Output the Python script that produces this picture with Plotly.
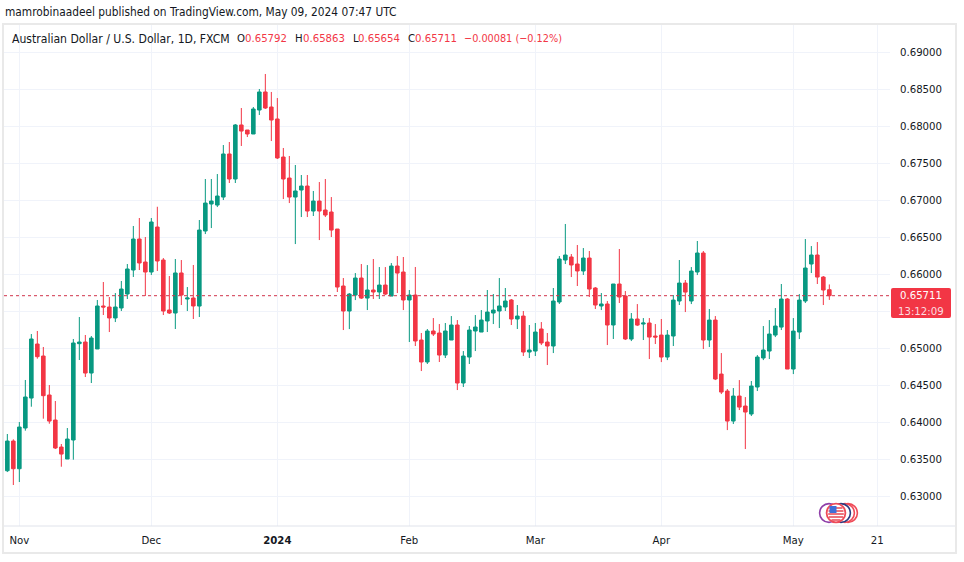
import plotly.graph_objects as go

bar_index = list(range(138))
opens = [
 .63346,.63747,.63373,.63923,.64328,.65058,.64896,.64369,.64031,.63666,
 .63504,.63761,.65063,.65085,.64666,.64991,.65572,.65558,.65410,.65545,
 .65734,.66058,.66477,.66166,.66031,.66639,.66193,.65518,.65477,.66018,
 .65666,.65680,.65571,.66585,.66950,.66936,.67044,.67626,.67288,.68018,
 .67950,.67896,.68220,.68464,.68261,.68099,.67585,.67301,.67044,.67139,
 .67193,.66855,.66990,.66869,.66842,.66612,.65842,.65504,.65720,.65950,
 .65679,.65788,.65761,.65855,.65706,.66112,.66031,.65653,.65720,.65112,
 .64815,.65234,.65207,.64909,.65112,.65315,.64531,.64882,.65234,.65220,
 .65369,.65477,.65504,.65558,.65653,.65396,.65436,.64950,.64963,.65261,
 .65085,.65031,.65626,.66193,.66234,.66139,.66045,.66220,.65815,.65572,
 .65599,.65315,.65869,.65707,.65125,.65396,.65328,.65342,.65166,.65179,
 .64882,.65166,.65639,.65882,.65639,.66031,.66288,.65112,.65382,.64652,
 .64423,.64017,.64355,.64220,.64112,.64477,.64869,.64963,.65179,.65287,
 .65666,.64720,.65220,.65639,.66139,.66261,.65963,.65792]
highs = [
 .63842,.63770,.64004,.64572,.65193,.65234,.65018,.64504,.64288,.63707,
 .63923,.65126,.65423,.65180,.65166,.65653,.65896,.65693,.65747,.65910,
 .66139,.66653,.66761,.66504,.66761,.66913,.66220,.65977,.66207,.66193,
 .65828,.66126,.66734,.67288,.67288,.67355,.67747,.67788,.68031,.68247,
 .67950,.68261,.68504,.68707,.68464,.68382,.67707,.67599,.67477,.67342,
 .67342,.67126,.67247,.67288,.67044,.66612,.65950,.65747,.66017,.66139,
 .66125,.66207,.66098,.66098,.66152,.66247,.66234,.65788,.66099,.65207,
 .65261,.65409,.65328,.65342,.65436,.65382,.64963,.65301,.65450,.65517,
 .65788,.65734,.65950,.65815,.65666,.65585,.65504,.65315,.65342,.65355,
 .65207,.65815,.66247,.66680,.66274,.66396,.66355,.66315,.65828,.65747,
 .65639,.65869,.66342,.65774,.65477,.65598,.65409,.65409,.65328,.65396,
 .65247,.65720,.66193,.65923,.66098,.66450,.66315,.65531,.65436,.64936,
 .64450,.64463,.64571,.64341,.64558,.64909,.65301,.65382,.65544,.65869,
 .65679,.65409,.65733,.66477,.66382,.66436,.65977,.65863]
lows = [
 .63328,.63153,.63193,.63887,.64211,.64860,.64049,.63981,.63639,.63400,
 .63504,.63495,.64842,.64612,.64531,.64991,.65450,.65220,.65355,.65504,
 .65666,.65964,.66058,.65707,.65991,.66045,.65450,.65464,.65261,.65585,
 .65504,.65396,.65423,.66544,.66625,.66909,.67004,.67234,.67234,.67734,
 .67855,.67896,.68153,.68234,.67801,.67558,.67017,.66963,.66409,.66774,
 .66774,.66788,.66463,.66774,.66504,.65761,.65247,.65260,.65652,.65666,
 .65517,.65666,.65666,.65720,.65706,.65747,.65517,.65085,.65031,.64693,
 .64788,.65166,.64815,.64869,.65112,.64436,.64477,.64788,.64963,.65220,
 .65220,.65328,.65274,.65504,.65315,.65261,.64896,.64869,.64896,.65044,
 .64774,.64936,.65599,.66139,.65963,.65842,.65991,.65693,.65531,.65517,
 .65044,.65126,.65612,.65112,.65098,.65301,.65112,.64855,.65058,.64814,
 .64841,.65031,.65585,.65490,.65598,.65990,.64990,.65017,.64571,.64382,
 .63895,.63977,.64166,.63639,.64085,.64423,.64841,.64855,.65152,.65247,
 .64720,.64652,.65125,.65612,.66017,.65869,.65585,.65654]
closes = [
 .63747,.63373,.63936,.64342,.65126,.64887,.64360,.64017,.63653,.63571,
 .63774,.65072,.65085,.64666,.65139,.65572,.65558,.65410,.65558,.65801,
 .66072,.66477,.66153,.66031,.66707,.66180,.65504,.65477,.66018,.65720,
 .65680,.65572,.66598,.66963,.66990,.67058,.67626,.67288,.68018,.67936,
 .67896,.68234,.68464,.68247,.68085,.67572,.67288,.67044,.67126,.67193,
 .66855,.66990,.66855,.66801,.66598,.65828,.65504,.65733,.65950,.65679,
 .65788,.65761,.65855,.65733,.66112,.66017,.65653,.65720,.65099,.64815,
 .65234,.65193,.64909,.65234,.65315,.64531,.64896,.65247,.65288,.65382,
 .65490,.65517,.65572,.65639,.65396,.65436,.64950,.64977,.65220,.65072,
 .65031,.65639,.66207,.66261,.66126,.66045,.66220,.65801,.65585,.65599,
 .65315,.65869,.65693,.65126,.65396,.65314,.65342,.65152,.65152,.64882,
 .65179,.65652,.65882,.65760,.66044,.66288,.65112,.65382,.64585,.64409,
 .64017,.64355,.64206,.64139,.64490,.64882,.64977,.65193,.65301,.65666,
 .64720,.65233,.65652,.66085,.66261,.65963,.65788,.65711]

y_ticks = [.63,.635,.64,.645,.65,.655,.66,.665,.67,.675,.68,.685,.69]
y_tick_labels = ["0.63000","0.63500","0.64000","0.64500","0.65000","","0.66000",
                 "0.66500","0.67000","0.67500","0.68000","0.68500","0.69000"]
x_tick_pos = [2,24,45,67,88,109,131,145]
x_tick_labels = ["Nov","Dec","<b>2024</b>","Feb","Mar","Apr","May","21"]
last_price = 0.65711

GREEN="#089981"; RED="#f23645"; INK="#131722"; GRID="#f0f3fa"; FRAME="#e9e9e9"
FONT="DejaVu Sans Condensed, Noto Sans, sans-serif"; FS=11.3
W,H=964,562
L,R,T,B=4,890,25,526
def px(x): return (x-L)/(R-L)
def py(y): return (B-y)/(B-T)

fig=go.Figure(go.Candlestick(x=bar_index,open=opens,high=highs,low=lows,close=closes,
    increasing=dict(line=dict(color=GREEN,width=1),fillcolor=GREEN),
    decreasing=dict(line=dict(color=RED,width=1),fillcolor=RED),
    whiskerwidth=0,hoverinfo="skip",showlegend=False))

shapes=[]
def rect(x0,y0,x1,y1,**k):
    shapes.append(dict(type="rect",xref="paper",yref="paper",x0=px(x0),x1=px(x1),y0=py(y0),y1=py(y1),**k))
def hline(x0,x1,y,color,w=1):
    shapes.append(dict(type="line",xref="paper",yref="paper",x0=px(x0),x1=px(x1),y0=py(y),y1=py(y),line=dict(color=color,width=w)))
def circle(cx,cy,r,fill,line,w=1.6):
    shapes.append(dict(type="circle",xref="paper",yref="paper",x0=px(cx-r),x1=px(cx+r),y0=py(cy+r),y1=py(cy-r),fillcolor=fill,line=dict(color=line,width=w)))

# outer frame and time-axis rule
rect(3,24,956,553,line=dict(color=FRAME,width=2),layer="below")
hline(4,955,526,"#e0e3eb")
# last-price line and label
shapes.append(dict(type="line",xref="paper",yref="y",x0=0,x1=1,y0=last_price,y1=last_price,
                   line=dict(color="#d0344c",width=1,dash="dot")))
shapes.append(dict(type="path",xref="paper",yref="paper",fillcolor=RED,line=dict(width=0),
    path="M%f,%f L%f,%f Q%f,%f %f,%f L%f,%f Q%f,%f %f,%f L%f,%f Q%f,%f %f,%f L%f,%f Q%f,%f %f,%f Z"%(
      px(893),py(288),px(949),py(288),px(951),py(288),px(951),py(290),px(951),py(316),
      px(951),py(318),px(949),py(318),px(893),py(318),px(891),py(318),px(891),py(316),
      px(891),py(290),px(891),py(288),px(893),py(288))))
# country-flag event marker
circle(848,513,9.4,"white","#ef4b58")
circle(845,513,9.4,"white","#ef4b58")
circle(841,513,9.4,"white","#2b3a80")
circle(829,513,9.4,"white","#8e3ea8")
circle(836,513,9.4,"white","#ef4b58",1.8)
for y,hw in [(508,6.5),(511,7.5),(514,7.8),(517,7),(520,4.5)]:
    hline(836-hw,836+hw,y,"#e8515d",1.6)
rect(829.5,506,836.5,513,fillcolor="#3f6fd8",line=dict(width=0))

ann=[]
def text(x,y,s,color=INK,size=FS,anchor="left"):
    ann.append(dict(xref="paper",yref="paper",x=px(x),y=py(y),text=s,showarrow=False,xanchor=anchor,yanchor="middle",
                    font=dict(family=FONT,size=size,color=color),borderpad=0,borderwidth=0))
text(5,12,"mamrobinaadeel published on TradingView.com, May 09, 2024 07:47 UTC",size=11.8)
text(12,39,"Australian Dollar / U.S. Dollar, 1D, FXCM",size=12.1)
for x,s,c,z in [(237,"O",INK,FS),(245,"0.65792",RED,FS),(295,"H",INK,FS),(302.5,"0.65863",RED,FS),
              (352.5,"L",INK,FS),(358,"0.65654",RED,FS),(408,"C",INK,FS),(414.5,"0.65711",RED,FS),
              (464,"−0.00081 (−0.12%)",RED,10.8)]:
    text(x,39,s,c,z)
text(921,295,"0.65711","white",FS,"center")
text(921,311,"13:12:09","#fcdde0",FS,"center")

fig.update_layout(width=W,height=H,autosize=False,margin=dict(l=L,r=W-R,t=T,b=H-B),
    paper_bgcolor="white",plot_bgcolor="white",showlegend=False,boxgap=0.15,
    shapes=shapes,annotations=ann,font=dict(family=FONT,size=FS,color=INK),
    xaxis=dict(rangeslider=dict(visible=False),type="linear",range=[(L-7.33)/6,(R-7.33)/6],
        tickmode="array",tickvals=x_tick_pos,ticktext=x_tick_labels,ticks="",ticklabelstandoff=6,
        showgrid=True,gridcolor=GRID,gridwidth=1,zeroline=False,showline=False,
        tickfont=dict(family=FONT,size=FS,color=INK)),
    yaxis=dict(side="right",range=[0.62599,0.69369],tickmode="array",tickvals=y_ticks,
        ticktext=y_tick_labels,ticks="",ticklabelstandoff=9,
        showgrid=True,gridcolor=GRID,gridwidth=1,zeroline=False,showline=False,
        tickfont=dict(family=FONT,size=FS,color=INK)))
fig.write_html("out.html",config=dict(displayModeBar=False),
    post_script="document.body.style.margin='0';document.documentElement.style.overflow='hidden';")
